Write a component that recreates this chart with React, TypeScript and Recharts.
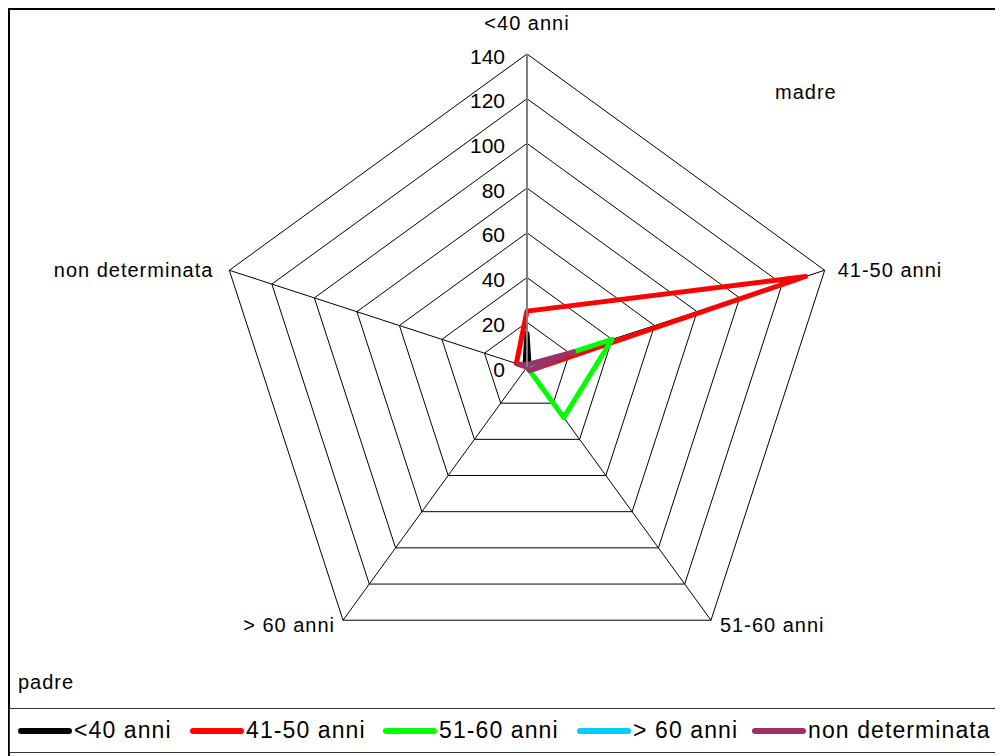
import React from 'react';
import { RadarChart, Radar, PolarGrid, PolarAngleAxis, PolarRadiusAxis } from 'recharts';

// categories around the radar (clockwise from top)
const categories = ['<40 anni', '41-50 anni', '51-60 anni', '> 60 anni', 'non determinata'];

// series values, one per category
const under40 = [15, 1, 0, 0, 1];
const from41to50 = [25, 131, 2, 0, 5];
const from51to60 = [0, 40, 28, 0, 1];
const over60 = [0, 2, 1, 0, 1];
const notDetermined = [1, 22, 2, 0, 4];

const radiusTicks = [0, 20, 40, 60, 80, 100, 120, 140];

const seriesNames = ['<40 anni', '41-50 anni', '51-60 anni', '> 60 anni', 'non determinata'];
const seriesValues = [under40, from41to50, from51to60, over60, notDetermined];
const seriesColors = ['#000000', '#FF0000', '#00FF00', '#00CCFF', '#993366'];

const chartData = categories.map((cat, i) => {
  const row: Record<string, string | number> = { cat };
  seriesNames.forEach((s, k) => {
    row[s] = seriesValues[k][i];
  });
  return row;
});

const CX = 517;
const CY = 357;
const R = 313;
const FONT = '"Liberation Sans", Arial, sans-serif';

// label offsets from each outer vertex
const angleLabelPos: { dx: number; dy: number; anchor: 'start' | 'middle' | 'end' }[] = [
  { dx: 0, dy: -31, anchor: 'middle' },
  { dx: 13, dy: 0, anchor: 'start' },
  { dx: 9, dy: 5, anchor: 'start' },
  { dx: -8, dy: 5, anchor: 'end' },
  { dx: -16, dy: 0, anchor: 'end' },
];

const legendLineX = [8, 180, 373, 567, 742];

const AngleTick = (props: any) => {
  const { payload } = props;
  const idx = categories.indexOf(payload.value);
  const ang = (-Math.PI / 180) * payload.coordinate;
  const vx = CX + Math.cos(ang) * R;
  const vy = CY + Math.sin(ang) * R;
  const p = angleLabelPos[idx] || { dx: 0, dy: 0, anchor: 'middle' };
  return (
    <text
      x={vx + p.dx}
      y={vy + p.dy}
      textAnchor={p.anchor}
      dominantBaseline="central"
      fontSize={20}
      letterSpacing={1}
      fontFamily={FONT}
      fill="#000"
    >
      {payload.value}
    </text>
  );
};

const RadiusTick = (props: any) => {
  const { x, y, payload } = props;
  return (
    <text
      x={x - 22}
      y={y + 2}
      textAnchor="end"
      dominantBaseline="central"
      fontSize={21}
      fontFamily={FONT}
      fill="#000"
    >
      {payload.value}
    </text>
  );
};

export default function App() {
  return (
    <div
      style={{
        position: 'relative',
        width: 1000,
        height: 760,
        borderTop: '2px solid #000',
        borderLeft: '2px solid #000',
        fontFamily: FONT,
        background: '#fff',
      }}
    >
      <RadarChart
        width={995}
        height={700}
        data={chartData}
        cx={CX}
        cy={CY}
        outerRadius={R}
        margin={{ top: 0, right: 0, bottom: 0, left: 0 }}
      >
        <PolarGrid gridType="polygon" stroke="#000" strokeWidth={1} />
        <PolarAngleAxis dataKey="cat" tick={AngleTick} tickLine={false} axisLine={false} />
        <PolarRadiusAxis
          angle={90}
          domain={[0, 140]}
          ticks={radiusTicks}
          tick={RadiusTick}
          tickLine={false}
          axisLine={{ stroke: '#808080', strokeWidth: 2 }}
        />
        {seriesNames.map((s, k) => (
          <Radar
            key={s}
            dataKey={s}
            stroke={seriesColors[k]}
            strokeWidth={5}
            strokeLinejoin="round"
            fill="none"
            fillOpacity={0}
            dot={false}
            isAnimationActive={false}
          />
        ))}
      </RadarChart>

      <div style={{ position: 'absolute', left: 765, top: 71, fontSize: 20, letterSpacing: 1 }}>madre</div>
      <div style={{ position: 'absolute', left: 8, top: 661, fontSize: 20, letterSpacing: 1 }}>padre</div>

      <div
        style={{
          position: 'absolute',
          left: -1,
          top: 698,
          width: 1010,
          height: 43,
          border: '1px solid #333',
        }}
      >
        {seriesNames.map((s, k) => (
          <div
            key={s}
            style={{
              position: 'absolute',
              left: legendLineX[k],
              top: 0,
              height: 43,
              display: 'flex',
              alignItems: 'center',
              whiteSpace: 'nowrap',
            }}
          >
            <span
              style={{
                display: 'inline-block',
                width: 54,
                height: 6,
                borderRadius: 3,
                background: seriesColors[k],
                marginRight: 2,
              }}
            />
            <span style={{ fontSize: 23, letterSpacing: 1.1 }}>{s}</span>
          </div>
        ))}
      </div>
    </div>
  );
}
